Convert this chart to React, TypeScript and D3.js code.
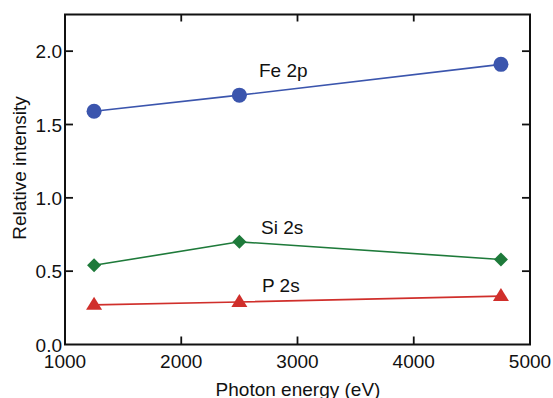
import React from 'react';
import * as d3 from 'd3';

const energies = [1250, 2500, 4750];
const fe2p = [1.59, 1.7, 1.91];
const si2s = [0.54, 0.7, 0.58];
const p2s = [0.27, 0.29, 0.33];
const xTicks = [1000, 2000, 3000, 4000, 5000];
const yTicks = [0, 0.5, 1.0, 1.5, 2.0];

const W = 553;
const H = 398;
const margin = { top: 14.5, right: 23, bottom: 53.5, left: 65 };
const FONT = '"Liberation Sans", Arial, Helvetica, sans-serif';
const FS = 19;

const App = () => {
  const x = d3.scaleLinear().domain([1000, 5000]).range([margin.left, W - margin.right]);
  const y = d3.scaleLinear().domain([0, 2.25]).range([H - margin.bottom, margin.top]);

  const line = d3
    .line<number>()
    .x((_, i) => x(energies[i]))
    .y((d) => y(d));

  const series = [
    { name: 'Fe 2p', values: fe2p, color: '#3b55ad', marker: 'circle', lx: 259, ly: 77 },
    { name: 'Si 2s', values: si2s, color: '#1e7a3a', marker: 'diamond', lx: 261, ly: 234 },
    { name: 'P 2s', values: p2s, color: '#d02f2b', marker: 'triangle', lx: 262, ly: 292 },
  ];

  const x0 = margin.left;
  const x1 = W - margin.right;
  const y0 = H - margin.bottom;
  const y1 = margin.top;
  const tick = 8;

  const marker = (type, cx, cy, color, key) => {
    if (type === 'circle') return <circle key={key} cx={cx} cy={cy} r={7.5} fill={color} />;
    if (type === 'diamond') {
      const r = 7;
      return <path key={key} d={`M${cx},${cy - r}L${cx + r},${cy}L${cx},${cy + r}L${cx - r},${cy}Z`} fill={color} />;
    }
    const h = 13;
    const w = 8;
    return (
      <path
        key={key}
        d={`M${cx},${cy - h * 0.62}L${cx + w},${cy + h * 0.38}L${cx - w},${cy + h * 0.38}Z`}
        fill={color}
      />
    );
  };

  return (
    <svg width={W} height={H} style={{ position: 'absolute', left: 0, top: 0, background: '#fff' }} fontFamily={FONT}>
      {/* series */}
      {series.map((s) => (
        <g key={s.name}>
          <path d={line(s.values) || ''} fill="none" stroke={s.color} strokeWidth={1.6} />
          {s.values.map((v, i) => marker(s.marker, x(energies[i]), y(v), s.color, i))}
          <text x={s.lx} y={s.ly} fontSize={FS} fill="#111">
            {s.name}
          </text>
        </g>
      ))}

      {/* frame */}
      <rect x={x0} y={y1} width={x1 - x0} height={y0 - y1} fill="none" stroke="#111" strokeWidth={2} />

      {/* x ticks */}
      {xTicks.map((t) => (
        <g key={t}>
          {t > 1000 && t < 5000 && (
            <>
              <line x1={x(t)} x2={x(t)} y1={y0} y2={y0 - tick} stroke="#111" strokeWidth={1.8} />
              <line x1={x(t)} x2={x(t)} y1={y1} y2={y1 + tick - 1} stroke="#111" strokeWidth={1.8} />
            </>
          )}
          <text x={x(t)} y={368} fontSize={FS} textAnchor="middle" fill="#111">
            {t}
          </text>
        </g>
      ))}

      {/* y ticks */}
      {yTicks.map((t) => (
        <g key={t}>
          {t > 0 && (
            <>
              <line x1={x0} x2={x0 + tick} y1={y(t)} y2={y(t)} stroke="#111" strokeWidth={1.8} />
              <line x1={x1} x2={x1 - tick} y1={y(t)} y2={y(t)} stroke="#111" strokeWidth={1.8} />
            </>
          )}
          <text x={62} y={y(t) + 7} fontSize={FS} textAnchor="end" fill="#111">
            {d3.format('.1f')(t)}
          </text>
        </g>
      ))}

      {/* axis titles */}
      <text x={298} y={396} fontSize={FS} textAnchor="middle" fill="#111">
        Photon energy (eV)
      </text>
      <text
        transform={`translate(26,168) rotate(-90)`}
        fontSize={FS}
        textAnchor="middle"
        fill="#111"
      >
        Relative intensity
      </text>
    </svg>
  );
};

export default App;
